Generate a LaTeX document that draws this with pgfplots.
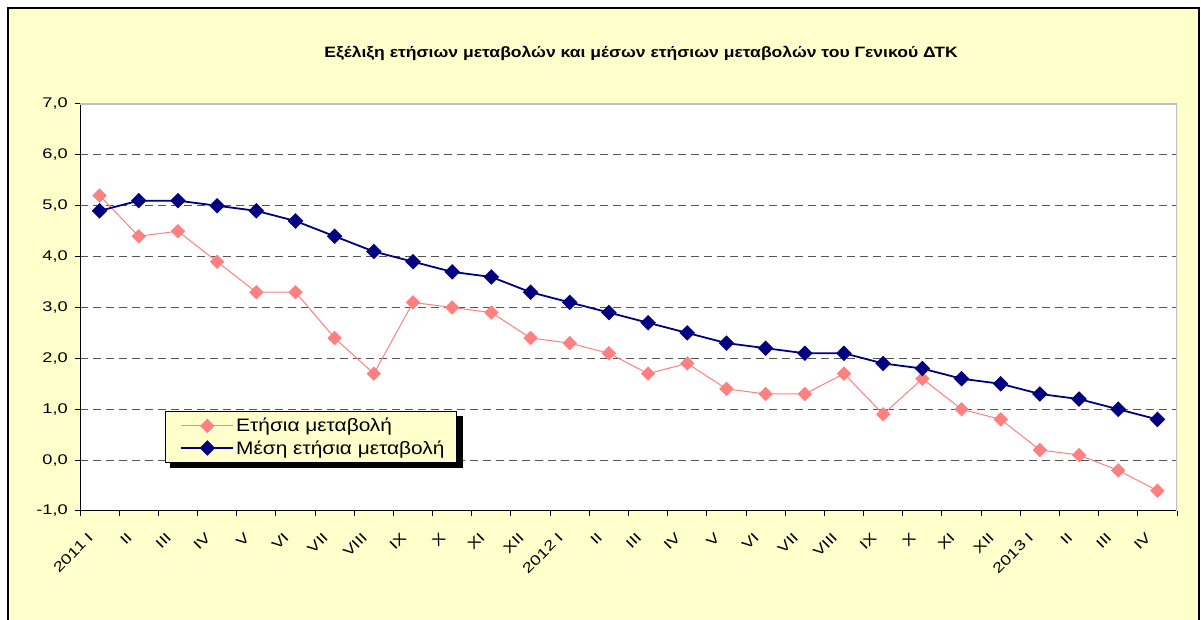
\documentclass[border=0pt]{standalone}
\usepackage{fontspec}
\setmainfont{Liberation Sans}
\newfontfamily\tickfont[FakeStretch=1.3]{Liberation Sans}
\newfontfamily\legfont[FakeStretch=1.16]{Liberation Sans}
\newfontfamily\titlefont[FakeStretch=1.17]{Liberation Sans}
\usepackage{pgfplots}
\pgfplotsset{compat=1.18}
\definecolor{bgyellow}{HTML}{FFFFCC}
\definecolor{pinkline}{HTML}{FF8080}
\definecolor{navyline}{HTML}{000080}
\definecolor{gridgray}{HTML}{555555}
\definecolor{bordergray}{HTML}{C0C0C0}
\begin{document}
\begin{tikzpicture}[x=1pt,y=1pt]
\useasboundingbox (0,0) rectangle (1201,620);
\fill[white] (0,0) rectangle (1201,620);
\fill[bgyellow] (8,-5) rectangle (1199,612);
\draw[black, line width=2pt] (8,-5) -- (8,612) -- (1199,612) -- (1199,-5);
\node[font=\titlefont\bfseries\fontsize{15}{18}\selectfont] at (641,567) {Εξέλιξη ετήσιων μεταβολών και μέσων ετήσιων μεταβολών του Γενικού ΔΤΚ};
\begin{axis}[
  at={(80pt,109pt)}, anchor=south west,
  width=1097pt, height=407pt, scale only axis,
  xmin=0.5, xmax=28.5, ymin=-1, ymax=7,
  axis x line*=bottom, axis y line*=left,
  axis line style={black, line width=1pt, -},
  axis background/.style={fill=white},
  xtick={1,...,28},
  xticklabels={2011 I,II,III,IV,V,VI,VII,VIII,IX,X,XI,XII,2012 I,II,III,IV,V,VI,VII,VIII,IX,X,XI,XII,2013 I,II,III,IV},
  minor xtick={0.5,1.5,...,28.5},
  major x tick style={draw=none},
  minor x tick style={black, line width=1pt},
  ytick={-1,0,...,7},
  yticklabels={{-1,0},{0,0},{1,0},{2,0},{3,0},{4,0},{5,0},{6,0},{7,0}},
  major y tick style={black, line width=1pt},
  tick align=outside, major tick length=5pt, minor tick length=5pt,
  ymajorgrids,
  grid style={gridgray, line width=1pt, dash pattern=on 8pt off 5pt},
  xticklabel style={font=\tickfont\fontsize{14}{16}\selectfont, inner sep=0pt, xshift=-9pt, yshift=-19pt, rotate=45, anchor=east},
  yticklabel style={font=\tickfont\fontsize{14}{16}\selectfont, inner sep=0pt, xshift=-7pt},
  legend style={at={(0.0775,0.2457)}, anchor=north west, fill=bgyellow, draw=black, line width=0.8pt,
    font=\legfont\fontsize{18}{20}\selectfont, row sep=3pt, inner xsep=9.5pt, inner ysep=5pt},
  legend cell align=left,
  legend image code/.code={\path (-5.5pt,0pt); \draw[#1, mark repeat=2, mark phase=2] plot coordinates {(0pt,0pt) (26pt,0pt) (52pt,0pt)};},
]
\addplot[pinkline, line width=1pt, mark=square*, mark size=4.6pt, mark options={rotate=45, solid, fill=pinkline, draw=pinkline}] coordinates {
(1,5.2) (2,4.4) (3,4.5) (4,3.9) (5,3.3) (6,3.3) (7,2.4) (8,1.7) (9,3.1) (10,3.0)
(11,2.9) (12,2.4) (13,2.3) (14,2.1) (15,1.7) (16,1.9) (17,1.4) (18,1.3) (19,1.3) (20,1.7)
(21,0.9) (22,1.6) (23,1.0) (24,0.8) (25,0.2) (26,0.1) (27,-0.2) (28,-0.6)};
\addlegendentry{Ετήσια μεταβολή}
\addplot[navyline, line width=1.8pt, mark=square*, mark size=4.6pt, mark options={rotate=45, solid, fill=navyline, draw=navyline}] coordinates {
(1,4.9) (2,5.1) (3,5.1) (4,5.0) (5,4.9) (6,4.7) (7,4.4) (8,4.1) (9,3.9) (10,3.7)
(11,3.6) (12,3.3) (13,3.1) (14,2.9) (15,2.7) (16,2.5) (17,2.3) (18,2.2) (19,2.1) (20,2.1)
(21,1.9) (22,1.8) (23,1.6) (24,1.5) (25,1.3) (26,1.2) (27,1.0) (28,0.8)};
\addlegendentry{Μέση ετήσια μεταβολή}
\draw[bordergray, line width=1.2pt] (rel axis cs:0,1) -- (rel axis cs:1,1) -- (rel axis cs:1,0);
\fill[black] (rel axis cs:0.08204,0.23342) rectangle (rel axis cs:0.34913,0.10565);
\end{axis}
\end{tikzpicture}
\end{document}
